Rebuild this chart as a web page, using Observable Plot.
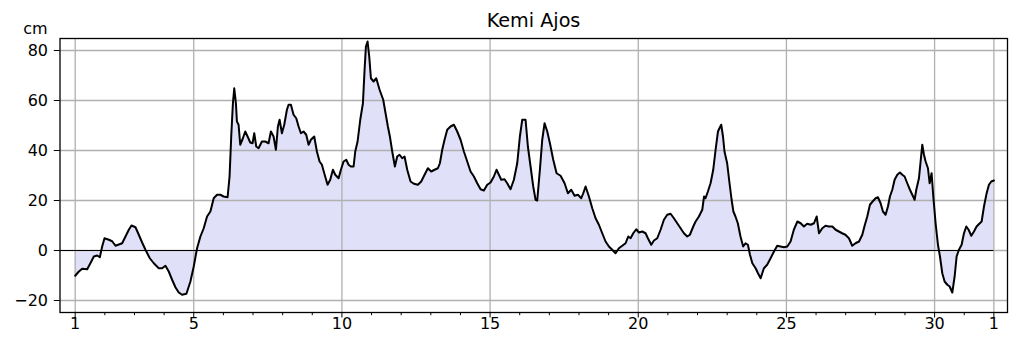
<!DOCTYPE html>
<html><head><meta charset="utf-8">
<script src="https://cdn.jsdelivr.net/npm/d3@7"></script>
<script src="https://cdn.jsdelivr.net/npm/@observablehq/plot@0.6"></script>
<style>
body{margin:0;background:#fff;}
#wrap{position:relative;width:1019px;height:352px;font-family:"DejaVu Sans",sans-serif;}
#title{position:absolute;left:0;top:11px;width:1019px;padding-left:48px;box-sizing:border-box;text-align:center;font-size:19.2px;line-height:1;color:#000;white-space:nowrap;}
#chart{position:absolute;left:0;top:0;}
</style></head><body>
<div id="wrap"><div id="chart"></div><div id="title">Kemi Ajos</div></div>
<script>
// time in days of the month (1 = start of day 1, 32 = start of next month's day 1)
const days = [
1.000,1.124,1.236,1.404,1.517,1.629,1.742,1.831,1.910,1.989,2.135,2.247,2.360,2.472,2.584,2.697,2.809,2.899,3.034,3.146,
3.258,3.371,3.517,3.652,3.820,3.933,4.045,4.157,4.270,4.382,4.494,4.607,4.753,4.888,5.000,5.112,5.225,5.337,5.449,5.562,
5.674,5.787,5.899,6.007,6.142,6.209,6.265,6.322,6.367,6.423,6.457,6.513,6.569,6.659,6.738,6.817,6.907,6.985,7.042,7.109,
7.188,7.300,7.413,7.525,7.604,7.694,7.773,7.840,7.897,7.975,8.054,8.144,8.200,8.279,8.369,8.459,8.538,8.616,8.706,8.796,
8.875,8.954,9.066,9.156,9.246,9.325,9.404,9.516,9.606,9.696,9.775,9.888,9.966,10.056,10.146,10.225,10.304,10.394,10.450,10.529,
10.619,10.709,10.765,10.810,10.866,10.922,10.979,11.069,11.159,11.271,11.394,11.473,11.551,11.619,11.698,11.788,11.866,11.945,12.035,12.114,
12.204,12.316,12.429,12.564,12.676,12.789,12.901,13.014,13.126,13.239,13.306,13.385,13.464,13.554,13.666,13.779,13.891,14.004,14.116,14.229,
14.341,14.454,14.566,14.679,14.791,14.904,15.016,15.128,15.218,15.297,15.376,15.488,15.578,15.691,15.803,15.916,16.006,16.085,16.197,16.276,
16.366,16.456,16.535,16.591,16.681,16.760,16.839,16.929,17.019,17.131,17.244,17.379,17.514,17.626,17.739,17.851,17.964,18.076,18.144,18.223,
18.335,18.448,18.560,18.672,18.785,18.897,19.010,19.122,19.235,19.347,19.460,19.572,19.662,19.741,19.831,19.932,20.022,20.135,20.247,20.326,
20.439,20.529,20.641,20.754,20.866,20.978,21.091,21.203,21.316,21.428,21.541,21.653,21.743,21.856,21.935,22.047,22.160,22.220,22.270,22.350,
22.440,22.530,22.610,22.690,22.740,22.800,22.860,22.910,23.000,23.080,23.150,23.210,23.280,23.360,23.450,23.540,23.620,23.700,23.770,23.850,
23.960,24.040,24.130,24.240,24.350,24.465,24.580,24.690,24.800,24.920,25.030,25.140,25.250,25.370,25.480,25.590,25.700,25.820,25.930,26.020,
26.100,26.210,26.320,26.430,26.550,26.660,26.770,26.880,26.990,27.110,27.220,27.330,27.450,27.560,27.638,27.728,27.818,27.908,28.010,28.088,
28.178,28.257,28.347,28.426,28.493,28.572,28.651,28.741,28.831,28.910,28.988,29.078,29.168,29.247,29.326,29.382,29.472,29.528,29.584,29.641,
29.697,29.776,29.832,29.899,29.956,30.034,30.113,30.181,30.259,30.338,30.428,30.507,30.597,30.676,30.743,30.822,30.912,30.991,31.069,31.148,
31.238,31.328,31.418,31.508,31.587,31.666,31.756,31.834,31.913,32.003
];
// sea level, cm
const levels = [
-10.1,-8.4,-7.3,-7.5,-5.0,-2.4,-2.0,-2.7,1.6,4.9,4.3,3.7,1.9,2.4,2.9,5.6,8.3,10.0,9.3,6.3,
3.2,0.3,-3.1,-5.1,-7.1,-7.1,-6.1,-8.4,-11.7,-14.7,-16.8,-17.7,-17.3,-12.4,-6.4,0.9,5.6,8.9,13.6,15.6,
20.9,22.3,22.3,21.6,21.3,29.6,45.6,58.9,64.9,58.9,51.6,50.3,42.3,44.9,47.6,45.6,43.2,42.9,46.9,41.6,
40.9,43.6,43.6,42.9,47.6,45.6,40.3,49.6,52.3,46.9,50.3,56.3,58.3,58.3,54.3,52.9,49.6,46.9,47.6,46.3,
42.3,44.3,45.6,39.6,35.6,34.3,30.9,26.3,28.3,32.3,30.3,28.9,32.3,35.6,36.3,34.3,33.6,33.6,39.6,43.6,
52.3,58.9,72.3,81.6,83.6,77.6,68.9,67.6,68.9,64.3,60.3,54.9,49.6,45.6,39.6,33.6,37.6,38.3,36.9,37.6,
32.3,27.6,26.7,26.3,27.6,30.3,32.9,31.6,32.3,32.9,34.9,40.3,44.3,48.3,49.6,50.3,47.6,44.3,39.6,35.6,
31.6,29.6,26.9,24.5,24.0,26.3,27.2,29.6,32.3,30.3,28.3,28.5,26.9,24.5,28.3,34.9,45.6,52.3,52.3,41.6,
33.6,25.6,20.3,20.0,32.3,44.3,50.9,47.6,42.9,36.3,30.9,29.9,26.9,22.9,24.3,21.9,22.3,20.9,22.9,25.6,
21.6,16.9,12.9,10.3,6.9,3.6,1.6,0.3,-1.1,0.9,1.9,2.9,5.6,4.9,6.9,8.5,7.2,7.6,6.9,4.9,
2.3,4.0,4.9,8.3,12.3,14.3,14.7,12.9,10.9,8.9,6.9,5.6,6.3,9.6,11.6,13.6,16.3,21.6,20.9,23.6,
26.9,32.3,40.3,47.6,48.9,50.3,45.6,39.6,34.9,26.9,20.3,15.6,13.6,10.9,5.6,1.6,2.9,2.3,-1.7,-5.1,
-7.1,-9.1,-11.1,-7.1,-5.7,-3.1,-0.4,1.9,1.6,1.3,1.6,3.6,8.3,11.6,10.9,9.6,10.7,10.3,10.9,13.6,
6.9,8.9,9.9,9.6,9.6,8.3,7.6,6.9,6.3,4.9,1.9,2.9,3.6,6.3,9.9,13.6,18.3,19.6,20.9,21.3,
18.9,15.6,14.3,17.6,21.6,24.3,28.3,30.3,31.2,30.3,29.6,26.9,24.3,22.3,20.3,24.3,28.9,35.6,42.3,38.3,
35.6,32.9,26.9,30.9,21.6,10.9,2.3,-2.4,-9.1,-12.4,-13.7,-14.4,-16.8,-10.4,-2.4,0.3,2.3,6.9,9.6,8.3,
5.9,7.6,9.6,10.7,11.6,17.6,22.9,26.3,27.6,28.0
];
const xTicks = [1, 5, 10, 15, 20, 25, 30, 32];
const xTickLabels = ["1", "5", "10", "15", "20", "25", "30", "1"];
const xMinorTicks = [2,3,4,6,7,8,9,11,12,13,14,16,17,18,19,21,22,23,24,26,27,28,29,31];
const yTicks = [-20, 0, 20, 40, 60, 80];
const xDomain = [0.487, 32.46];
const yDomain = [-24.8, 84.8];

const data = days.map((d, i) => ({day: d, cm: levels[i]}));

const chart = Plot.plot({
  width: 1019, height: 352,
  marginLeft: 59.5, marginRight: 12, marginTop: 38, marginBottom: 40,
  style: {fontFamily: "DejaVu Sans, sans-serif", fontSize: "16px", color: "#000", background: "transparent"},
  x: {domain: xDomain},
  y: {domain: yDomain},
  marks: [
    Plot.areaY(data, {x: "day", y1: 0, y2: "cm", fill: "#e0e0f8"}),
    Plot.gridX(xTicks, {stroke: "#b0b0b0", strokeOpacity: 1, strokeWidth: 1.3}),
    Plot.gridY(yTicks, {stroke: "#b0b0b0", strokeOpacity: 1, strokeWidth: 1.3}),
    Plot.ruleY([0], {x1: xDomain[0], x2: d3.max(days), stroke: "#000", strokeWidth: 1.1}),
    Plot.lineY(data, {x: "day", y: "cm", stroke: "#000", strokeWidth: 2}),
    Plot.frame({stroke: "#000", strokeWidth: 1.3}),
    Plot.axisX(xTicks, {tickFormat: d => xTickLabels[xTicks.indexOf(d)], tickSize: 5.5, tickPadding: 0, label: null, fontSize: 16}),
    Plot.axisX(xMinorTicks, {tickFormat: () => "", tickSize: 3.2, label: null}),
    Plot.axisY(yTicks, {tickSize: 5.7, tickPadding: 6.3, label: null, fontSize: 16}),
    Plot.text(["cm"], {frameAnchor: "top-left", dx: -24.5, dy: -5, textAnchor: "middle", lineAnchor: "bottom", fontSize: 16})
  ]
});
document.getElementById("chart").appendChild(chart);
</script>
</body></html>
